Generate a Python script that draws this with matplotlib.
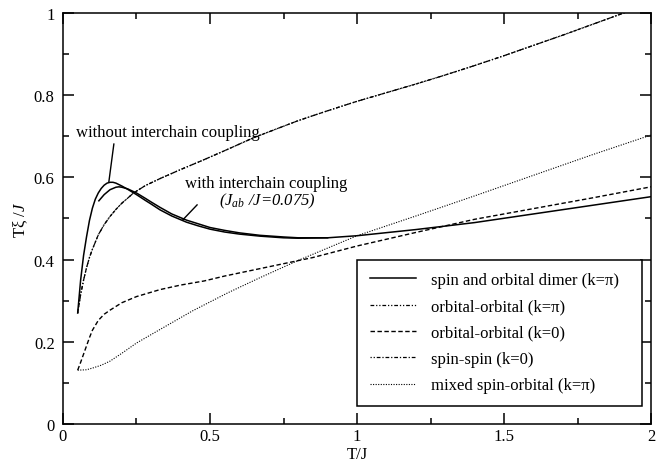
import matplotlib
matplotlib.use("Agg")
import matplotlib.pyplot as plt
from matplotlib.ticker import MultipleLocator, FuncFormatter

plt.rcParams['font.family'] = ['Liberation Serif', 'DejaVu Serif']
plt.rcParams['mathtext.fontset'] = 'custom'
plt.rcParams['mathtext.rm'] = 'Liberation Serif'
plt.rcParams['mathtext.it'] = 'Liberation Serif:italic'

# spin and orbital dimer (k=pi), without interchain coupling
T_dimer = [0.05, 0.06, 0.07, 0.08, 0.09, 0.10, 0.11, 0.12, 0.13, 0.14, 0.15, 0.16,
           0.17, 0.18, 0.20, 0.22, 0.25, 0.28, 0.30, 0.33, 0.37, 0.42, 0.46, 0.50,
           0.55, 0.60, 0.67, 0.75, 0.80, 0.90, 1.0, 1.2, 1.4, 1.6, 1.8, 2.0]
y_dimer = [0.27, 0.35, 0.41, 0.455, 0.495, 0.525, 0.547, 0.562, 0.573, 0.581, 0.586, 0.588,
           0.588, 0.586, 0.579, 0.571, 0.558, 0.544, 0.535, 0.521, 0.506, 0.491, 0.482, 0.474,
           0.467, 0.462, 0.457, 0.453, 0.452, 0.453, 0.458, 0.473, 0.490, 0.511, 0.532, 0.553]

# spin and orbital dimer with interchain coupling (J_ab/J = 0.075)
T_dimer_ic = [0.122, 0.14, 0.16, 0.18, 0.19, 0.20, 0.22, 0.25, 0.28, 0.30, 0.33, 0.37,
              0.42, 0.46, 0.50, 0.55, 0.60, 0.67, 0.75, 0.80, 0.90]
y_dimer_ic = [0.543, 0.558, 0.570, 0.576, 0.577, 0.576, 0.572, 0.562, 0.549, 0.540, 0.527, 0.511,
              0.496, 0.487, 0.478, 0.471, 0.465, 0.459, 0.455, 0.453, 0.453]

# orbital-orbital (k=pi) -- coincides with spin-spin (k=0)
T_oo_pi = [0.05, 0.06, 0.07, 0.08, 0.09, 0.10, 0.12, 0.14, 0.16, 0.18, 0.20, 0.24, 0.28,
           0.33, 0.40, 0.47, 0.55, 0.65, 0.80, 0.90, 1.0, 1.1, 1.2, 1.3, 1.4, 1.5, 1.6,
           1.7, 1.8, 1.9, 2.0]
y_oo_pi = [0.27, 0.315, 0.35, 0.38, 0.405, 0.425, 0.46, 0.485, 0.505, 0.522, 0.537, 0.562, 0.58,
           0.597, 0.619, 0.64, 0.665, 0.697, 0.738, 0.762, 0.785, 0.806, 0.827, 0.849, 0.872,
           0.896, 0.921, 0.946, 0.972, 0.998, 1.024]

# spin-spin (k=0)
T_ss_0 = T_oo_pi
y_ss_0 = y_oo_pi

# orbital-orbital (k=0)
T_oo_0 = [0.05, 0.06, 0.07, 0.08, 0.09, 0.10, 0.12, 0.14, 0.16, 0.20, 0.25, 0.33, 0.40,
          0.48, 0.55, 0.65, 0.75, 0.85, 1.0, 1.2, 1.4, 1.6, 1.8, 2.0]
y_oo_0 = [0.131, 0.15, 0.17, 0.19, 0.21, 0.228, 0.252, 0.267, 0.277, 0.295, 0.31, 0.327, 0.338,
          0.348, 0.36, 0.375, 0.39, 0.405, 0.433, 0.466, 0.498, 0.524, 0.550, 0.577]

# mixed spin-orbital (k=pi)
T_mix = [0.05, 0.08, 0.10, 0.13, 0.16, 0.20, 0.25, 0.33, 0.44, 0.56, 0.67, 0.80, 0.90, 1.0,
         1.2, 1.4, 1.6, 1.8, 2.0]
y_mix = [0.131, 0.132, 0.136, 0.143, 0.153, 0.172, 0.197, 0.230, 0.275, 0.319, 0.356, 0.398,
         0.428, 0.458, 0.506, 0.555, 0.605, 0.655, 0.703]

labels = ["spin and orbital dimer (k=\u03c0)", "orbital-orbital (k=\u03c0)",
          "orbital-orbital (k=0)", "spin-spin (k=0)", "mixed spin-orbital (k=\u03c0)"]

fig = plt.figure(figsize=(6.63, 4.64), dpi=100)
ax = fig.add_axes([0.095, 0.084, 0.887, 0.886])

ax.plot(T_dimer, y_dimer, color='black', lw=1.1, ls='-', label=labels[0])
ax.plot(T_dimer_ic, y_dimer_ic, color='black', lw=1.1, ls='-')
ax.plot(T_oo_pi, y_oo_pi, color='black', lw=0.9, ls=(0, (3, 1.5, 1, 1.5, 1, 1.5)), label=labels[1])
ax.plot(T_oo_0, y_oo_0, color='black', lw=1.0, ls=(0, (3.2, 1.8)), label=labels[2])
ax.plot(T_ss_0, y_ss_0, color='black', lw=0.9, ls=(2, (3, 1.5, 1, 1.5)), label=labels[3])
ax.plot(T_mix, y_mix, color='black', lw=0.8, ls=(0, (1, 1.3)), label=labels[4])

ax.set_xlim(0, 2)
ax.set_ylim(0, 1)
ax.xaxis.set_major_locator(MultipleLocator(0.5))
ax.xaxis.set_minor_locator(MultipleLocator(0.25))
ax.yaxis.set_major_locator(MultipleLocator(0.2))
ax.yaxis.set_minor_locator(MultipleLocator(0.1))
fmt = FuncFormatter(lambda v, p: ('%g' % round(v, 3)))
ax.xaxis.set_major_formatter(fmt)
ax.yaxis.set_major_formatter(fmt)
ax.tick_params(which='both', direction='in', top=True, right=True, width=1.1, labelsize=12)
ax.tick_params(which='major', length=8)
ax.tick_params(which='minor', length=4)
ax.tick_params(axis='x', which='major', pad=3)
ax.tick_params(axis='y', which='major', pad=6)
for s in ax.spines.values():
    s.set_linewidth(1.1)

ax.set_xlabel("T/J", fontsize=12, labelpad=1)
ax.set_ylabel("T\u03be /$J$", fontsize=12, labelpad=3)

ax.text(0.044, 0.71, "without interchain coupling", fontsize=12, ha='left', va='center')
ax.plot([0.173, 0.156], [0.681, 0.589], color='black', lw=1.0)
ax.text(0.69, 0.587, "with interchain coupling", fontsize=12, ha='center', va='center')
ax.text(0.696, 0.545, "($J_{ab}$ /$J$=0.075)", fontsize=12, ha='center', va='center', style='italic')
ax.plot([0.456, 0.408], [0.533, 0.497], color='black', lw=1.0)

leg = ax.legend(loc='lower left', bbox_to_anchor=(0.5, 0.044, 0.485, 0.344), mode='expand',
                fontsize=12, frameon=True, fancybox=False, edgecolor='black', framealpha=1,
                handlelength=2.8, handletextpad=0.9, labelspacing=0.62, borderpad=0.75,
                borderaxespad=0)
leg.get_frame().set_linewidth(1.1)

fig.savefig("out.png", dpi=100)
